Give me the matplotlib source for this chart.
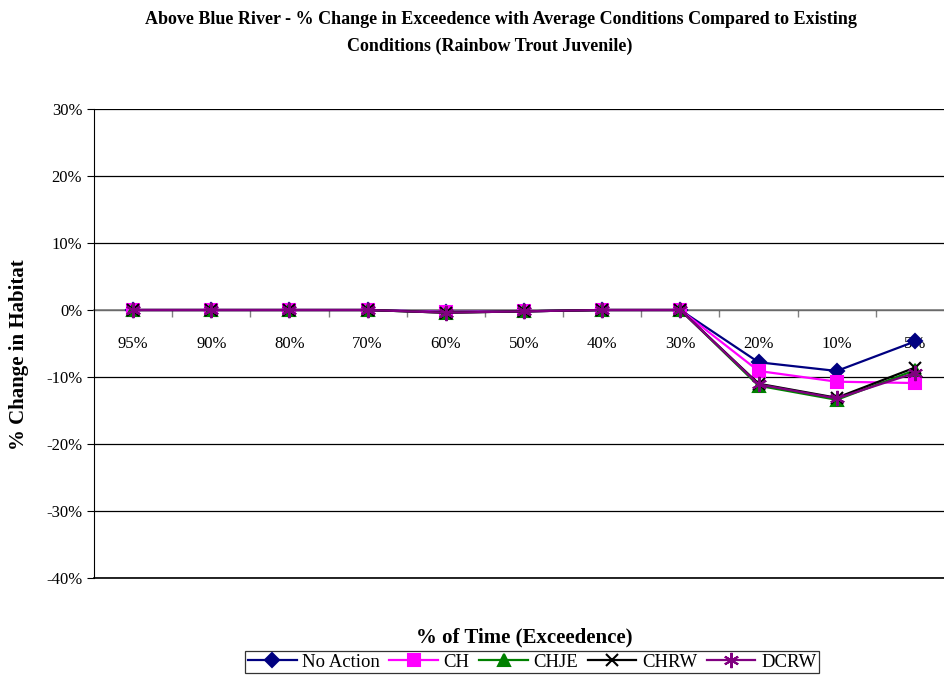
import matplotlib
matplotlib.use("Agg")
import matplotlib.pyplot as plt
import numpy as np

categories = ["95%", "90%", "80%", "70%", "60%", "50%", "40%", "30%", "20%", "10%", "5%"]
no_action = [0.0, 0.0, 0.0, 0.0, -0.3, -0.2, 0.0, 0.0, -7.8, -9.1, -4.7]
ch = [0.0, 0.0, 0.0, 0.0, -0.3, -0.2, 0.0, 0.0, -9.1, -10.7, -10.9]
chje = [0.0, 0.0, 0.0, 0.0, -0.4, -0.2, 0.0, 0.0, -11.3, -13.4, -9.0]
chrw = [0.0, 0.0, 0.0, 0.0, -0.4, -0.2, 0.0, 0.0, -11.0, -13.1, -8.6]
dcrw = [0.0, 0.0, 0.0, 0.0, -0.4, -0.2, 0.0, 0.0, -11.1, -13.2, -9.4]
series_names = ["No Action", "CH", "CHJE", "CHRW", "DCRW"]

plt.rcParams['font.family'] = ['Liberation Serif', 'DejaVu Serif']

fig = plt.figure(figsize=(9.45, 6.75), dpi=100)
ax = fig.add_axes([94/945, 97/675, 860/945, 469/675])

x = np.arange(len(categories))
styles = [
    (no_action, "#000080", "D", 7, "#000080"),
    (ch, "#FF00FF", "s", 8, "#FF00FF"),
    (chje, "#008000", "^", 8, "#008000"),
    (chrw, "#000000", "x", 9, "#000000"),
    (dcrw, "#800080", (6, 2, 0), 11, "#800080"),
]
for (vals, col, mk, ms, mc), name in zip(styles, series_names):
    ax.plot(x, vals, color=col, lw=1.6, marker=mk, markersize=ms,
            markerfacecolor=mc, markeredgecolor=mc, markeredgewidth=1.5, label=name)

ax.set_xlim(-0.5, 10.5)
ax.set_ylim(-40, 30)
ax.set_yticks(np.arange(-40, 31, 10))
ax.set_yticklabels([f"{v}%" for v in range(-40, 31, 10)], fontsize=12)
ax.yaxis.grid(True, color="black", lw=0.9)
ax.axhline(-40, color="black", lw=1.2, clip_on=False, zorder=0.5)
ax.set_axisbelow(True)

for s in ["top", "right"]:
    ax.spines[s].set_visible(False)
ax.spines["left"].set_color("black")
ax.spines["bottom"].set_position(("data", 0))
ax.spines["bottom"].set_color("#808080")
ax.spines["bottom"].set_linewidth(1.2)
ax.spines["bottom"].set_zorder(1.5)

ax.set_xticks(x)
ax.set_xticklabels(categories, fontsize=12)
ax.tick_params(axis="x", length=0, pad=19)
ax.set_xticks(np.arange(0.5, 10.5, 1), minor=True)
ax.tick_params(axis="x", which="minor", length=5, color="#808080", width=1, direction="out")
ax.tick_params(axis="y", length=5, direction="out")

fig.text(501/945, 1 - 20/675, "Above Blue River - % Change in Exceedence with Average Conditions Compared to Existing",
         ha="center", va="center", fontsize=13, fontweight="bold")
fig.text(490/945, 1 - 46/675, "Conditions (Rainbow Trout Juvenile)",
         ha="center", va="center", fontsize=13, fontweight="bold")
fig.text(19/945, 1 - 355/675, "% Change in Habitat", rotation=90, ha="center", va="center",
         fontsize=15, fontweight="bold")
fig.text(524/945, 1 - 637/675, "% of Time (Exceedence)", ha="center", va="center",
         fontsize=15, fontweight="bold")

leg = fig.legend(loc="center", bbox_to_anchor=(532/945, 1 - 662/675), ncol=5, fontsize=13.5,
                 frameon=True, fancybox=False, edgecolor="black", handlelength=2.6,
                 columnspacing=0.5, handletextpad=0.3, borderpad=0.15)
leg.get_frame().set_linewidth(0.9)

fig.savefig("out.png", dpi=100)
